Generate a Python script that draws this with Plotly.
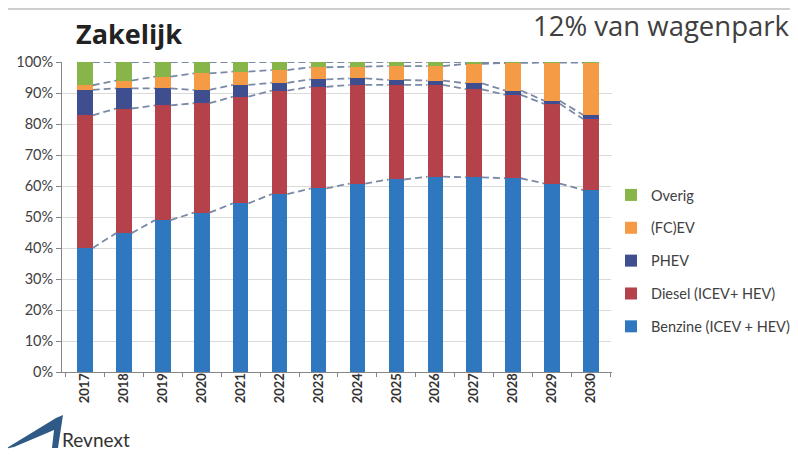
import plotly.graph_objects as go
import numpy as np

years = [2017, 2018, 2019, 2020, 2021, 2022, 2023, 2024, 2025, 2026, 2027, 2028, 2029, 2030]
benzine = [40.0, 44.8, 49.0, 51.4, 54.4, 57.4, 59.2, 60.8, 62.1, 63.0, 62.8, 62.5, 60.8, 58.7]
diesel = [42.8, 40.2, 37.0, 35.3, 34.4, 33.4, 32.8, 31.8, 30.5, 29.6, 28.4, 26.9, 25.7, 22.9]
phev = [8.2, 6.5, 5.5, 4.3, 3.8, 2.5, 2.4, 2.1, 1.6, 1.4, 1.9, 1.4, 1.0, 1.3]
ev = [1.5, 2.5, 3.8, 5.3, 4.3, 4.1, 3.9, 3.8, 4.5, 4.7, 6.3, 8.9, 12.3, 16.9]
overig = [7.5, 6.0, 4.7, 3.7, 3.1, 2.6, 1.7, 1.5, 1.3, 1.3, 0.6, 0.3, 0.2, 0.2]
series_names = ["Benzine (ICEV + HEV)", "Diesel (ICEV+ HEV)", "PHEV", "(FC)EV", "Overig"]
y_ticks = list(range(0, 101, 10))

colors = ["#2f78bf", "#b5424a", "#3f4e8e", "#f59a45", "#88b54a"]

# page body adds an 8px margin; compensate so the picture lines up with the window
OFF = 8
W, H = 798 - OFF, 458 - OFF
L, R, T, B = 62 - OFF, 612 - OFF, 62 - OFF, 372 - OFF


def px(x):
    return (x - OFF - L) / (R - L)


def py(y):
    return (B - (y - OFF)) / (B - T)


fig = go.Figure()
all_series = [benzine, diesel, phev, ev, overig]
for k, (name, vals, col) in enumerate(zip(series_names, all_series, colors)):
    fig.add_trace(go.Bar(x=years, y=vals, name=name, marker_color=col, width=0.4,
                         marker_line_width=0, legendgroup=name,
                         legendrank=len(series_names) - k))

# Series lines connecting segment tops between bars
half = 0.2
cum = np.cumsum(np.array(all_series), axis=0)
for row in cum:
    xs, ys = [], []
    for i in range(len(years) - 1):
        xs += [years[i] + half, years[i + 1] - half, None]
        ys += [row[i], row[i + 1], None]
    fig.add_trace(go.Scatter(x=xs, y=ys, mode="lines",
                             line=dict(color="#7a8aa6", width=1.8, dash="7px,4px"),
                             showlegend=False, hoverinfo="skip"))

fig.update_layout(
    width=W, height=H,
    margin=dict(l=L, r=W - R, t=T, b=H - B, pad=0, autoexpand=False),
    paper_bgcolor="white", plot_bgcolor="white",
    barmode="stack",
    font=dict(family="Lato", color="#404040", size=13),
    showlegend=True,
    legend=dict(x=px(611), y=py(179), xanchor="left", yanchor="top",
                traceorder="grouped", tracegroupgap=11,
                font=dict(size=14.5, color="#404040", family="Lato"),
                itemwidth=30),
    xaxis=dict(range=[2016.41, 2030.54], tickmode="array", tickvals=years,
               ticktext=[str(y) for y in years], tickangle=-90,
               tickfont=dict(size=13, color="#333333", family="Lato", weight="bold"),
               ticks="", showline=True, linecolor="#868686", linewidth=1,
               showgrid=False, zeroline=False, ticklabelstandoff=-5,
               minor=dict(tickmode="array", tickvals=[y - 0.5 for y in years] + [years[-1] + 0.5],
                          ticks="outside", ticklen=4, tickcolor="#868686")),
    yaxis=dict(range=[0, 100], tickmode="array", tickvals=y_ticks,
               ticktext=[f"{v}%" for v in y_ticks],
               tickfont=dict(size=14.5, color="#404040", family="Lato"),
               ticks="outside", ticklen=5, tickcolor="#868686",
               showline=True, linecolor="#868686", linewidth=1,
               showgrid=True, gridcolor="#dadada", gridwidth=1, zeroline=False),
)

fig.add_annotation(text="<b>Zakelijk</b>", x=px(74), y=py(34), xref="paper", yref="paper",
                   xanchor="left", yanchor="middle", showarrow=False,
                   font=dict(size=27, color="#222222", family="Open Sans"))
fig.add_annotation(text="12% van wagenpark", x=px(792), y=py(26), xref="paper", yref="paper",
                   xanchor="right", yanchor="middle", showarrow=False,
                   font=dict(size=27.5, color="#404040", family="Open Sans"))
fig.add_annotation(text="Revnext", x=px(60), y=py(439), xref="paper", yref="paper",
                   xanchor="left", yanchor="middle", showarrow=False,
                   font=dict(size=19, color="#333333", family="Lato"))

logo_pts = [(5, 449), (56, 418), (63, 415), (58, 448), (52, 448), (54, 430), (14, 447)]
path = "M " + " L ".join(f"{px(x):.4f},{py(y):.4f}" for x, y in logo_pts) + " Z"
fig.add_shape(type="path", path=path, xref="paper", yref="paper",
              fillcolor="#2f5a85", line=dict(width=0))
fig.add_shape(type="line", x0=px(OFF - 8), x1=px(798), y0=py(OFF + 1), y1=py(OFF + 1),
              xref="paper", yref="paper", line=dict(color="#cfcfcf", width=2))

fig.write_html("out.html")
